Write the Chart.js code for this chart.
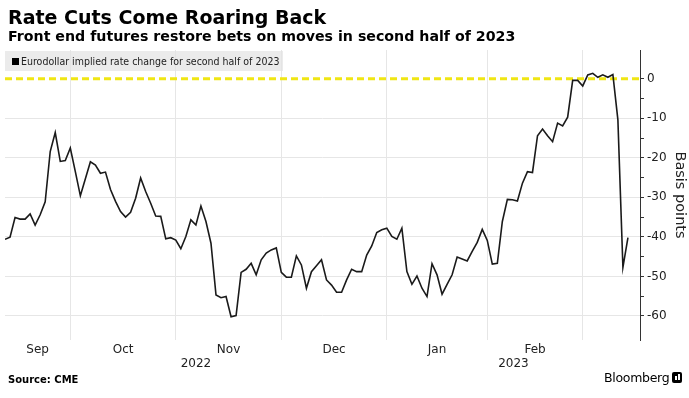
<!DOCTYPE html>
<html>
<head>
<meta charset="utf-8">
<script src="https://cdn.jsdelivr.net/npm/chart.js@4/dist/chart.umd.min.js"></script>
<style>
  html, body { margin: 0; padding: 0; background: #fff; }
  body { width: 689px; height: 398px; position: relative; overflow: hidden; font-family: 'DejaVu Sans', sans-serif; color: #000; }
  #chart { position: absolute; left: 0; top: 0; }
  .txt { position: absolute; white-space: nowrap; line-height: 1; }
  #title { left: 8px; top: 8px; font-size: 19px; font-weight: bold; }
  #subtitle { left: 8px; top: 29px; font-size: 14.2px; font-weight: bold; }
  #legend { position: absolute; left: 5px; top: 51px; width: 278px; height: 20px; background: rgba(226,226,226,0.7); }
  #legend .sq { position: absolute; left: 7px; top: 7px; width: 7px; height: 7px; background: #000; }
  #legend .lbl { position: absolute; left: 16px; top: 5px; font-family: 'DejaVu Sans Condensed', 'DejaVu Sans', sans-serif; font-stretch: condensed; font-size: 10.5px; line-height: 1; white-space: nowrap; color: #222; }
  #source { left: 8px; top: 375px; font-size: 10px; font-weight: bold; }
  #brand { left: 604px; top: 372px; font-size: 12.5px; letter-spacing: -0.3px; }
  #logo { position: absolute; left: 672px; top: 372px; width: 10px; height: 11px; border-radius: 2px; background: #000; }
  #logo i { position: absolute; bottom: 3px; width: 1.5px; background: #fff; }
</style>
</head>
<body>
<canvas id="chart" width="689" height="398"></canvas>
<div class="txt" id="title">Rate Cuts Come Roaring Back</div>
<div class="txt" id="subtitle">Front end futures restore bets on moves in second half of 2023</div>
<div id="legend"><div class="sq"></div><div class="lbl">Eurodollar implied rate change for second half of 2023</div></div>
<div class="txt" id="source">Source: CME</div>
<div class="txt" id="brand">Bloomberg</div>
<div id="logo"><i style="left:3px;height:4px"></i><i style="left:6px;height:6px"></i></div>
<script>
// one value per trading session, 14 Sep 2022 .. 14 Mar 2023 (basis points)
const values = [
  -40.6, -40.1, -35.1, -35.5, -35.5, -34.2, -37.0, -34.4, -31.1, -18.4,
  -13.6, -20.9, -20.7, -17.5, -23.5, -29.6, -25.3, -21.0, -21.8, -23.9,
  -23.6, -28.0, -31.0, -33.6, -35.0, -33.8, -30.2, -25.1, -28.5, -31.5,
  -34.7, -34.8, -40.5, -40.2, -40.8, -43.0, -39.9, -35.7, -37.0, -32.2,
  -36.1, -41.6, -54.7, -55.4, -55.1, -60.2, -59.9, -49.0, -48.2, -46.7,
  -49.6, -45.8, -44.1, -43.3, -42.8, -49.0, -50.2, -50.2, -44.8, -47.1,
  -53.0, -48.8, -47.3, -45.8, -50.9, -52.2, -54.0, -54.0, -50.9, -48.2,
  -48.8, -48.8, -44.6, -42.3, -38.9, -38.2, -37.8, -39.9, -40.6, -37.8,
  -48.8, -52.0, -49.9, -53.0, -55.1, -46.8, -49.6, -54.5, -52.0, -49.6,
  -45.1, -45.6, -46.1, -43.7, -41.4, -38.1, -40.9, -46.9, -46.7, -36.1,
  -30.5, -30.6, -30.9, -26.4, -23.5, -23.7, -14.4, -12.7, -14.4, -15.9,
  -11.2, -11.9, -9.7, -0.4, -0.4, -1.8, 1.0, 1.4, 0.4, 1.0,
  0.4, 1.1, -10.4, -47.7, -40.2
];

// month labels and the session index where each month starts (last entry = Mar)
const monthLabels = ['Sep', 'Oct', 'Nov', 'Dec', 'Jan', 'Feb'];
const monthStarts = [0, 13, 34, 55, 76, 96, 115];
const yearLabels = ['2022', '2023'];
const yearStarts = [0, 76];

const xMax = 126.4;
const yMin = -66.1, yMax = 7.3;

const monthMids = monthLabels.map((m, i) => (monthStarts[i] + monthStarts[i + 1]) / 2);
const yearEnds = yearStarts.slice(1).concat([xMax]);
const yearMids = yearLabels.map((y, i) => (yearStarts[i] + yearEnds[i]) / 2);

const bgPlugin = {
  id: 'bg',
  beforeDraw(chart) {
    const c = chart.ctx;
    c.save();
    c.fillStyle = '#fff';
    c.fillRect(0, 0, chart.width, chart.height);
    c.restore();
  }
};

new Chart(document.getElementById('chart'), {
  type: 'line',
  data: {
    datasets: [{
      label: 'Eurodollar implied rate change for second half of 2023',
      data: values.map((v, i) => ({ x: i, y: v })),
      borderColor: '#1a1a1a',
      borderWidth: 1.6,
      pointRadius: 0,
      tension: 0,
      order: 0
    }, {
      label: 'zero',
      data: [{ x: 0, y: 0 }, { x: xMax, y: 0 }],
      borderColor: '#f0e614',
      borderWidth: 3,
      borderDash: [7, 4],
      pointRadius: 0,
      order: 1
    }]
  },
  options: {
    responsive: false,
    animation: false,
    layout: { padding: { left: 5, top: 50, right: 0, bottom: 26 } },
    plugins: { legend: { display: false }, tooltip: { enabled: false } },
    scales: {
      x: {
        type: 'linear',
        position: 'bottom',
        min: 0,
        max: xMax,
        afterBuildTicks(scale) {
          scale.ticks = monthStarts.slice(1).concat(monthMids).map(v => ({ value: v }));
        },
        afterFit(scale) { scale.height = 17; },
        border: { display: false },
        grid: {
          drawTicks: false,
          color: ctx => (ctx.tick && monthStarts.includes(ctx.tick.value)) ? '#e6e6e6' : 'rgba(0,0,0,0)'
        },
        ticks: {
          autoSkip: false,
          maxRotation: 0,
          padding: 3,
          color: '#222',
          font: { family: 'DejaVu Sans', size: 12 },
          callback: v => {
            const i = monthMids.indexOf(v);
            return i >= 0 ? monthLabels[i] : '';
          }
        }
      },
      xYear: {
        type: 'linear',
        position: 'bottom',
        min: 0,
        max: xMax,
        afterBuildTicks(scale) {
          scale.ticks = yearMids.map(v => ({ value: v }));
        },
        afterFit(scale) { scale.height = 15; },
        border: { display: false },
        grid: { display: false, drawTicks: false },
        ticks: {
          autoSkip: false,
          maxRotation: 0,
          padding: 0,
          color: '#222',
          font: { family: 'DejaVu Sans', size: 12 },
          callback: v => {
            const i = yearMids.indexOf(v);
            return i >= 0 ? yearLabels[i] : '';
          }
        }
      },
      y: {
        position: 'right',
        min: yMin,
        max: yMax,
        afterBuildTicks(scale) {
          scale.ticks = scale.ticks.filter(t => Math.abs(t.value % 5) < 1e-6);
        },
        afterFit(scale) { scale.width = 49; },
        border: { display: true, color: '#333', width: 1 },
        grid: {
          tickLength: 4,
          tickColor: '#333',
          color: ctx => (ctx.tick && ctx.tick.value !== 0 && Math.abs(ctx.tick.value % 10) < 1e-6) ? '#e6e6e6' : 'rgba(0,0,0,0)'
        },
        ticks: {
          stepSize: 5,
          padding: 3,
          color: '#222',
          font: { family: 'DejaVu Sans', size: 12 },
          callback: v => (Math.abs(v % 10) < 1e-6 ? String(v) : '')
        },
        title: {
          display: true,
          text: 'Basis points',
          color: '#222',
          font: { family: 'DejaVu Sans', size: 14.5 },
          padding: { top: 1, bottom: 0 }
        }
      }
    }
  },
  plugins: [bgPlugin]
});
</script>
</body>
</html>
